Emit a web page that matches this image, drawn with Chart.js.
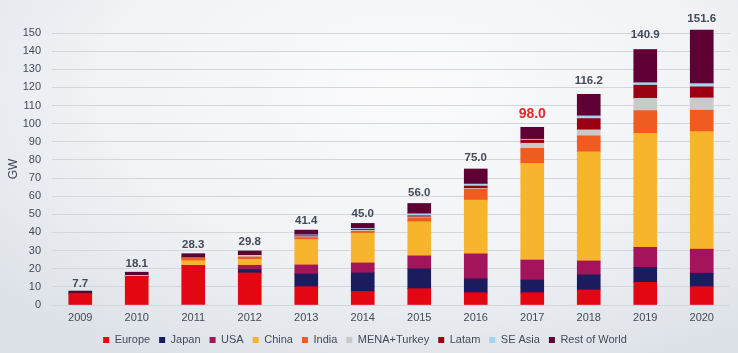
<!DOCTYPE html>
<html>
<head>
<meta charset="utf-8">
<script src="https://cdn.jsdelivr.net/npm/chart.js@4/dist/chart.umd.min.js"></script>
<style>
  html, body { margin: 0; padding: 0; }
  body {
    width: 738px;
    height: 353px;
    overflow: hidden;
    background: radial-gradient(ellipse 75% 85% at 55% 25%, #fbfbfc 0%, #f1f3f6 55%, #dde2e8 100%);
  }
  #wrap { position: relative; width: 738px; height: 353px; }
</style>
</head>
<body>
<div id="wrap"><canvas id="gw-chart"></canvas></div>
<script>
'use strict';

var years = ['2009', '2010', '2011', '2012', '2013', '2014', '2015', '2016', '2017', '2018', '2019', '2020'];
var europe = [6.4, 15.8, 21.6, 17.7, 10.1, 7.4, 9.0, 6.8, 6.8, 8.3, 12.5, 10.1];
var japan = [0, 0, 0, 1.8, 7.0, 10.3, 10.9, 7.6, 7.0, 8.3, 8.3, 7.4];
var usa = [0, 0, 0, 2.4, 5.0, 5.5, 7.2, 13.8, 11.0, 7.7, 11.0, 13.3];
var china = [0, 0, 2.8, 3.3, 14.0, 16.4, 18.8, 29.6, 53.3, 60.2, 62.9, 64.8];
var india = [0, 0, 1.5, 1.3, 1.1, 1.1, 2.2, 6.1, 8.3, 8.8, 12.5, 11.8];
var mena = [0, 0.5, 0, 0.9, 0.5, 0.5, 0.5, 0.4, 2.8, 3.3, 6.8, 6.8];
var latam = [0, 0, 0, 0, 0.5, 0.5, 0.6, 1.3, 1.7, 6.2, 7.2, 6.1];
var seAsia = [0, 0, 0, 0, 0.5, 0.5, 1.1, 1.1, 0.5, 1.5, 1.4, 1.8];
var restOfWorld = [1.3, 1.8, 2.4, 2.4, 2.6, 2.8, 5.7, 8.3, 6.6, 11.9, 18.3, 29.5];
var totals = [7.7, 18.1, 28.3, 29.8, 41.4, 45.0, 56.0, 75.0, 98.0, 116.2, 140.9, 151.6];
var yTicks = [0, 10, 20, 30, 40, 50, 60, 70, 80, 90, 100, 110, 120, 130, 140, 150];

var textColor = '#434a58';
var fontFamily = '"Liberation Sans", Arial, sans-serif';

function series(label, data, color) {
  return {
    label: label,
    data: data,
    backgroundColor: color,
    borderWidth: 0,
    barThickness: 23,
    clip: false
  };
}

// totals above each stack, the 2017 one is highlighted in red
var totalLabels = {
  id: 'totalLabels',
  afterDatasetsDraw: function(chart) {
    var ctx = chart.ctx;
    var top = chart.getDatasetMeta(chart.data.datasets.length - 1);
    ctx.save();
    ctx.textAlign = 'center';
    ctx.textBaseline = 'alphabetic';
    totals.forEach(function(v, i) {
      var bar = top.data[i];
      var gap = 4 + 0.055 * v;
      var y = Math.max(bar.y - gap, 22);
      if (years[i] === '2017') {
        ctx.font = 'bold 14px ' + fontFamily;
        ctx.fillStyle = '#de2a2e';
      } else {
        ctx.font = 'bold 11.5px ' + fontFamily;
        ctx.fillStyle = textColor;
      }
      ctx.fillText(v.toFixed(1), bar.x, y);
    });
    ctx.restore();
  }
};

// NOTE: legend box height is fixed so the chart area ends at the same place as the original
var legendHeight = {
  id: 'legendHeight',
  beforeInit: function(chart) {
    var fit = chart.legend.fit;
    chart.legend.fit = function() {
      fit.call(this);
      this.height = 27.5;
    };
  }
};

var ctx = document.getElementById('gw-chart').getContext('2d');
var chart = new Chart(ctx, {
  type: 'bar',
  data: {
    labels: years,
    datasets: [
      series('Europe', europe, '#e30613'),
      series('Japan', japan, '#1a1c5e'),
      series('USA', usa, '#a3145a'),
      series('China', china, '#f7b52e'),
      series('India', india, '#ef5b21'),
      series('MENA+Turkey', mena, '#c9c9c9'),
      series('Latam', latam, '#9a0012'),
      series('SE Asia', seAsia, '#a6d3f0'),
      series('Rest of World', restOfWorld, '#5f0035')
    ]
  },
  plugins: [totalLabels, legendHeight],
  options: {
    responsive: false,
    animation: false,
    maintainAspectRatio: false,
    layout: {
      padding: { top: 33, right: 8, left: 0, bottom: 0 }
    },
    plugins: {
      tooltip: { enabled: false },
      legend: {
        display: true,
        position: 'bottom',
        labels: {
          boxWidth: 6,
          boxHeight: 6,
          padding: 9,
          color: textColor,
          font: { family: fontFamily, size: 11 }
        }
      }
    },
    scales: {
      x: {
        stacked: true,
        afterFit: function(scale) { scale.height = 20.5; },
        grid: { display: false, drawTicks: false },
        border: { display: false },
        ticks: {
          padding: 6.4,
          color: textColor,
          font: { family: fontFamily, size: 11 }
        }
      },
      y: {
        stacked: true,
        min: 0,
        max: 150,
        afterFit: function(scale) { scale.width = 52; },
        afterBuildTicks: function(scale) {
          scale.ticks = yTicks.map(function(v) { return { value: v }; });
        },
        grid: { color: '#d3d7dc', lineWidth: 1, drawTicks: false },
        border: { display: false },
        ticks: {
          autoSkip: false,
          padding: 11,
          color: textColor,
          font: { family: fontFamily, size: 11 }
        },
        title: {
          display: true,
          text: 'GW',
          color: textColor,
          padding: { top: 6, bottom: 0 },
          font: { family: fontFamily, size: 12 }
        }
      }
    }
  }
});

chart.resize(738, 353);
</script>
</body>
</html>
